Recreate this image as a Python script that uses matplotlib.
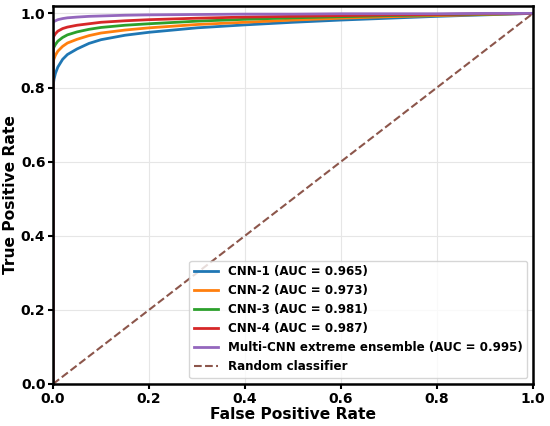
import matplotlib.pyplot as plt

fpr = [0, 0, 0.001, 0.002, 0.005, 0.01, 0.02, 0.03, 0.05, 0.075, 0.1, 0.15, 0.2,
       0.3, 0.4, 0.5, 0.6, 0.7, 0.8, 0.9, 1.0]

tpr_cnn1 = [0, 0.800, 0.812, 0.822, 0.838, 0.855, 0.876, 0.889, 0.904, 0.919, 0.929, 0.941, 0.949,
            0.961, 0.969, 0.976, 0.982, 0.987, 0.992, 0.996, 1.0]
tpr_cnn2 = [0, 0.865, 0.872, 0.877, 0.887, 0.898, 0.911, 0.920, 0.930, 0.940, 0.947, 0.955, 0.961,
            0.970, 0.976, 0.982, 0.987, 0.991, 0.994, 0.997, 1.0]
tpr_cnn3 = [0, 0.900, 0.905, 0.909, 0.916, 0.925, 0.935, 0.942, 0.950, 0.957, 0.962, 0.968, 0.972,
            0.979, 0.984, 0.988, 0.991, 0.994, 0.996, 0.998, 1.0]
tpr_cnn4 = [0, 0.932, 0.936, 0.939, 0.945, 0.952, 0.959, 0.963, 0.968, 0.972, 0.976, 0.980, 0.983,
            0.987, 0.990, 0.992, 0.994, 0.996, 0.997, 0.999, 1.0]
tpr_ens = [0, 0.974, 0.976, 0.978, 0.980, 0.983, 0.986, 0.988, 0.990, 0.992, 0.993, 0.995, 0.996,
           0.997, 0.998, 0.998, 0.999, 0.999, 0.999, 1.0, 1.0]

labels = ["CNN-1 (AUC = 0.965)", "CNN-2 (AUC = 0.973)", "CNN-3 (AUC = 0.981)",
          "CNN-4 (AUC = 0.987)", "Multi-CNN extreme ensemble (AUC = 0.995)"]
colors = ["tab:blue", "tab:orange", "tab:green", "tab:red", "tab:purple"]
series = [tpr_cnn1, tpr_cnn2, tpr_cnn3, tpr_cnn4, tpr_ens]

fig = plt.figure(figsize=(5.5, 4.26), dpi=100)
ax = fig.add_axes([0.0964, 0.0986, 0.8727, 0.8874])

for tpr, lab, col in zip(series, labels, colors):
    ax.plot(fpr, tpr, color=col, lw=2, label=lab)
ax.plot([0, 1], [0, 1], "--", color="tab:brown", lw=1.5, label="Random classifier")

ax.set_xlim(0, 1)
ax.set_ylim(0, 1.02)
ax.set_xlabel("False Positive Rate", fontsize=11.2, fontweight="bold", labelpad=1)
ax.set_ylabel("True Positive Rate", fontsize=11.2, fontweight="bold", labelpad=2)
ax.grid(True, color="#e6e6e6", lw=0.8)
ax.set_axisbelow(True)
for sp in ax.spines.values():
    sp.set_linewidth(1.8)
ax.tick_params(width=1.5, length=3.5, pad=2, labelsize=10)
for t in ax.get_xticklabels() + ax.get_yticklabels():
    t.set_fontweight("bold")

leg = ax.legend(loc="lower right", prop={"weight": "bold", "size": 8.6})

fig.savefig("out.png", dpi=100)
